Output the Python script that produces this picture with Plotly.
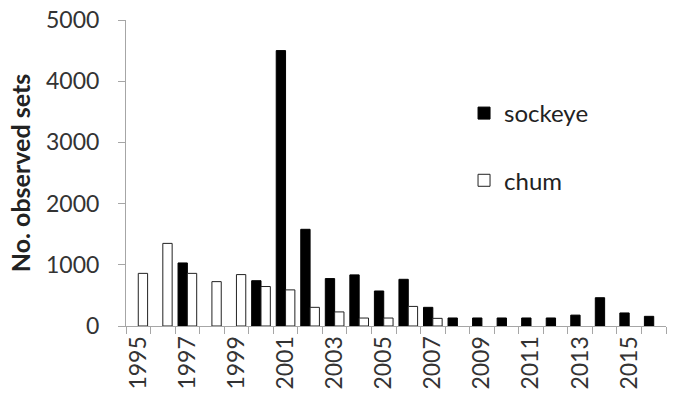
import plotly.graph_objects as go

years = list(range(1995, 2017))
sockeye = [None, None, 1030, None, None, 740, 4500, 1580, 775, 835, 572, 763,
           305, 131, 131, 131, 131, 131, 178, 462, 213, 158]
chum = [860, 1350, 860, 725, 840, 645, 590, 305, 230, 130, 130, 320,
        125, None, None, None, None, None, None, None, None, None]
label_years = [1995, 1997, 1999, 2001, 2003, 2005, 2007, 2009, 2011, 2013, 2015]
y_ticks = [0, 1000, 2000, 3000, 4000, 5000]

FONT = "Lato"
TXT = "#333333"
AX = "#a6a6a6"

fig = go.Figure()
fig.add_trace(go.Bar(x=years, y=sockeye, name="sockeye", legendgroup="s",
                     marker=dict(color="black", line=dict(color="black", width=1))))
fig.add_trace(go.Bar(x=years, y=chum, name="chum", legendgroup="c",
                     marker=dict(color="white", line=dict(color="#222222", width=1))))

boundaries = [y - 0.5 for y in years] + [years[-1] + 0.5]

fig.update_layout(
    width=675, height=397,
    margin=dict(l=126, r=9, t=20, b=71),
    paper_bgcolor="white", plot_bgcolor="white",
    barmode="group", bargap=0.24, bargroupgap=0,
    font=dict(family=FONT, size=23, color=TXT),
    showlegend=True,
    legend=dict(x=0.626, y=0.768, xanchor="left", yanchor="top",
                bgcolor="rgba(0,0,0,0)", tracegroupgap=33,
                font=dict(family=FONT, size=24, color="#222222")),
    xaxis=dict(range=[1994.5, 2016.5], tickmode="array", tickvals=label_years,
               ticktext=[str(v) for v in label_years], tickangle=-90,
               ticks="", showgrid=False, zeroline=False, automargin=False,
               ticklabeloverflow="allow",
               showline=True, linecolor=AX, linewidth=1,
               tickfont=dict(family=FONT, size=23, color=TXT),
               minor=dict(tickmode="array", tickvals=boundaries, ticks="outside",
                          ticklen=7, tickcolor=AX, tickwidth=1, showgrid=False)),
    yaxis=dict(range=[0, 5000], tickmode="array", tickvals=y_ticks,
               ticks="outside", ticklen=7, tickcolor=AX, showgrid=False,
               zeroline=False, showline=True, linecolor=AX, linewidth=1,
               automargin="left", ticklabelstandoff=14,
               ticklabeloverflow="allow",
               tickfont=dict(family=FONT, size=23, color=TXT),
               title=dict(text="<b>No. observed sets</b>", standoff=8,
                          font=dict(family=FONT, size=25, color="#222222"))),
)

fig.write_html("out.html",
               config={"displayModeBar": False},
               post_script="document.body.style.margin='0';")
